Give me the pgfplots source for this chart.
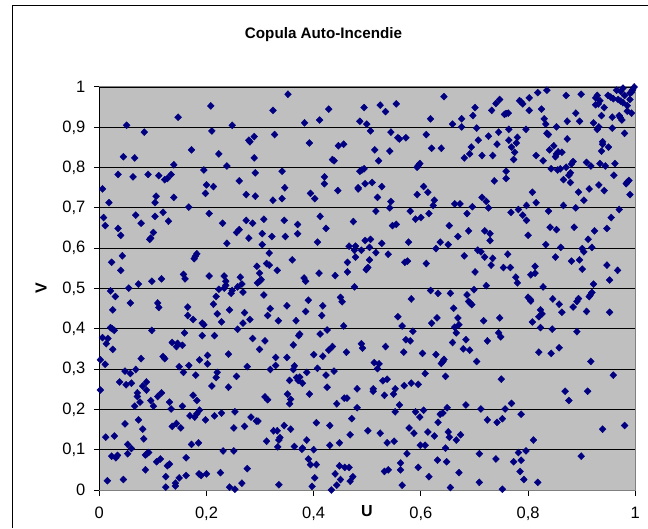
\documentclass[border=0pt]{standalone}
\usepackage{pgfplots}
\pgfplotsset{compat=1.18}
\usepackage{fontspec}
\setmainfont{Liberation Sans}
\begin{document}
\begin{tikzpicture}[x=1pt,y=1pt]
\path[use as bounding box] (0,0) rectangle (648,528);
\draw[black,line width=1.2pt] (12.5,0) -- (12.5,522.5) -- (648,522.5);
\begin{axis}[
  at={(99.3pt,38pt)},anchor=south west,
  width=536pt,height=403pt,scale only axis,
  xmin=0,xmax=1,ymin=0,ymax=1,
  axis background/.style={fill=black!25},
  axis line style={draw=black!50,line width=1pt},
  xtick={0,0.2,0.4,0.6,0.8,1},
  ytick={0,0.1,0.2,0.3,0.4,0.5,0.6,0.7,0.8,0.9,1},
  tick pos=left,
  tick align=outside,
  major tick length=5.5pt,
  xtick style={black,line width=1pt},
  ytick style={black,line width=1pt},
  ymajorgrids,grid style={black,line width=0.8pt},
  /pgf/number format/assume math mode=true,
  /pgf/number format/use comma,
  /pgf/number format/fixed,
  tick label style={font=\fontsize{16.5}{18}\selectfont},
  xticklabel style={yshift=-8pt},
  yticklabel style={xshift=-5pt},
  clip=false,
]
\addplot[only marks,mark=diamond*,mark size=3.5pt,color={rgb,255:red,0;green,0;blue,128},mark options={xscale=1.3}] table[row sep=\\] {
x y\\
.051 .905\\ .084 .888\\ .147 .925\\ .208 .953\\ .210 .891\\ .248 .905\\ .324 .942\\ .327 .882\\ .279 .868\\ .281 .864\\
.289 .877\\ .172 .844\\ .223 .834\\ .045 .827\\ .066 .824\\ .289 .824\\ .139 .807\\ .238 .804\\ .035 .783\\ .063 .777\\
.091 .783\\ .111 .780\\ .122 .770\\ .127 .773\\ .134 .783\\ .195 .794\\ .291 .787\\ .261 .767\\ .006 .747\\ .200 .757\\
.213 .753\\ .198 .736\\ .274 .733\\ .291 .729\\ .018 .713\\ .106 .729\\ .104 .713\\ .139 .726\\ .324 .719\\ .167 .702\\
.068 .682\\ .119 .689\\ .205 .686\\
.352 .982\\ .643 .976\\ .428 .945\\ .494 .949\\ .524 .955\\ .534 .939\\ .554 .958\\ .383 .911\\ .411 .918\\ .486 .915\\
.499 .908\\ .618 .921\\ .506 .891\\ .544 .888\\ .610 .882\\ .557 .874\\ .560 .871\\ .572 .874\\ .392 .861\\ .446 .854\\
.456 .858\\ .514 .844\\ .542 .841\\ .620 .848\\ .638 .848\\ .435 .820\\ .438 .817\\ .521 .817\\ .598 .810\\ .593 .801\\
.595 .805\\ .341 .791\\ .486 .791\\ .490 .794\\ .494 .797\\ .420 .777\\ .420 .760\\ .346 .750\\ .445 .743\\ .483 .750\\
.483 .747\\ .496 .760\\ .509 .763\\ .527 .753\\ .605 .753\\ .613 .739\\ .593 .733\\ .394 .736\\ .402 .723\\ .341 .723\\
.519 .726\\ .544 .716\\ .625 .719\\ .623 .706\\ .542 .700\\ .516 .692\\ .580 .692\\ .615 .686\\
.835 .992\\ .818 .986\\ .802 .973\\ .871 .979\\ .899 .982\\ .929 .979\\ .926 .973\\ .949 .979\\ .954 .975\\ .959 .971\\
.965 .992\\ .977 .997\\ .973 .989\\ .998 1.0\\ .995 .993\\ .990 .985\\ .993 .987\\ .980 .979\\ .968 .969\\ .973 .965\\
.977 .961\\ .990 .969\\ .985 .954\\ .985 .940\\ .993 .935\\ .747 .969\\ .740 .959\\ .701 .949\\ .732 .942\\ .784 .966\\
.787 .963\\ .790 .958\\ .802 .942\\ .825 .945\\ .934 .966\\ .926 .956\\ .931 .958\\ .942 .949\\ .889 .935\\ .937 .929\\
.957 .925\\ .970 .929\\ .972 .924\\ .975 .918\\ .697 .929\\ .676 .921\\ .756 .932\\ .759 .934\\ .763 .935\\ .830 .921\\
.833 .908\\ .873 .915\\ .896 .915\\ .922 .911\\ .659 .908\\ .676 .901\\ .704 .898\\ .853 .901\\ .932 .901\\ .929 .895\\
.957 .898\\ .745 .888\\ .764 .895\\ .796 .895\\ .835 .885\\ .838 .882\\ .980 .885\\ .726 .878\\ .780 .875\\ .707 .868\\
.764 .868\\ .873 .871\\ .939 .864\\ .939 .858\\ .778 .861\\ .742 .858\\ .694 .851\\ .769 .851\\ .848 .854\\ .840 .844\\
.950 .851\\ .937 .841\\ .775 .838\\ .853 .834\\ .856 .839\\ .863 .838\\ .851 .827\\ .691 .834\\ .714 .830\\ .734 .830\\
.681 .824\\ .815 .830\\ .828 .817\\ .773 .820\\ .884 .815\\ .881 .809\\ .909 .813\\ .917 .804\\ .934 .810\\ .944 .804\\
.962 .810\\ .871 .801\\ .843 .797\\ .860 .797\\ .855 .794\\ .759 .791\\ .879 .787\\ .876 .781\\ .759 .773\\ .960 .781\\
.737 .767\\ .866 .770\\ .879 .763\\ .988 .768\\ .985 .764\\ .983 .760\\ .932 .757\\ .914 .747\\ .942 .743\\ .894 .739\\
.808 .739\\ .990 .733\\ .714 .726\\ .722 .716\\ .904 .719\\ .663 .710\\ .673 .710\\ .815 .713\\ .696 .703\\ .797 .706\\
.866 .706\\ .726 .700\\ .782 .696\\ .889 .700\\ .970 .696\\ .838 .692\\ .768 .689\\ .686 .686\\ .790 .682\\
.008 .676\\ .011 .656\\ .035 .649\\ .040 .632\\ .078 .662\\ .104 .679\\ .129 .667\\ .101 .639\\ .096 .625\\ .094 .622\\
.230 .662\\ .274 .669\\ .286 .662\\ .307 .672\\ .261 .646\\ .256 .639\\ .304 .636\\ .322 .629\\ .279 .625\\ .238 .612\\
.304 .609\\ .043 .581\\ .023 .565\\ .040 .545\\ .182 .586\\ .179 .580\\ .177 .574\\ .317 .588\\ .312 .562\\ .317 .558\\
.294 .555\\ .332 .545\\ .299 .538\\ .302 .522\\ .299 .518\\ .295 .514\\ .157 .535\\ .160 .524\\ .205 .531\\ .233 .531\\
.263 .528\\ .116 .524\\ .098 .518\\ .073 .511\\ .055 .501\\ .236 .518\\ .236 .508\\ .233 .501\\ .223 .498\\ .266 .511\\
.258 .504\\ .248 .495\\ .246 .488\\ .268 .491\\ .021 .494\\ .030 .480\\ .218 .480\\ .307 .484\\ .058 .464\\ .109 .464\\
.111 .453\\ .213 .461\\ .165 .454\\ .025 .447\\ .243 .447\\ .319 .450\\ .220 .437\\ .271 .440\\ .165 .433\\ .314 .433\\
.175 .423\\ .281 .423\\ .228 .417\\ .334 .420\\ .192 .414\\ .195 .410\\ .268 .414\\ .021 .403\\ .028 .396\\ .024 .400\\
.098 .396\\ .258 .399\\ .159 .390\\ .192 .383\\ .215 .383\\ .006 .378\\ .016 .376\\ .286 .376\\ .013 .363\\ .309 .370\\
.136 .366\\ .146 .364\\ .155 .359\\ .144 .356\\ .025 .349\\ .299 .349\\
.345 .669\\ .370 .659\\ .412 .679\\ .474 .666\\ .423 .649\\ .554 .659\\ .547 .656\\ .590 .672\\ .600 .676\\ .653 .656\\
.347 .629\\ .370 .636\\ .407 .615\\ .496 .619\\ .506 .622\\ .527 .612\\ .577 .615\\ .636 .615\\ .651 .609\\ .466 .605\\
.478 .605\\ .476 .595\\ .489 .595\\ .504 .602\\ .516 .589\\ .539 .585\\ .628 .599\\ .478 .578\\ .504 .571\\ .463 .565\\
.360 .571\\ .570 .565\\ .575 .568\\ .610 .562\\ .501 .552\\ .498 .547\\ .463 .541\\ .410 .538\\ .440 .532\\ .382 .526\\
.385 .518\\ .476 .504\\ .618 .495\\ .632 .488\\ .655 .488\\ .450 .478\\ .453 .467\\ .582 .474\\ .390 .471\\ .350 .457\\
.417 .457\\ .385 .443\\ .415 .433\\ .557 .430\\ .630 .427\\ .367 .420\\ .620 .414\\ .456 .407\\ .565 .407\\ .425 .397\\
.585 .394\\ .374 .387\\ .372 .383\\ .412 .387\\ .572 .373\\ .580 .370\\ .362 .360\\ .489 .363\\ .491 .352\\ .435 .356\\
.428 .347\\ .534 .356\\
.955 .676\\ .797 .669\\ .841 .652\\ .853 .646\\ .886 .652\\ .924 .643\\ .947 .649\\ .689 .643\\ .719 .643\\ .729 .636\\
.669 .629\\ .729 .619\\ .800 .632\\ .912 .622\\ .833 .609\\ .861 .602\\ .919 .602\\ .901 .599\\ .904 .591\\ .706 .595\\
.712 .591\\ .681 .581\\ .719 .578\\ .734 .575\\ .762 .585\\ .851 .578\\ .896 .571\\ .881 .568\\ .731 .558\\ .754 .552\\
.767 .552\\ .813 .555\\ .901 .548\\ .947 .558\\ .967 .545\\ .701 .541\\ .813 .538\\ .805 .534\\ .777 .528\\ .780 .514\\
.952 .521\\ .722 .507\\ .828 .504\\ .922 .511\\ .699 .497\\ .686 .484\\ .919 .490\\ .916 .484\\ .914 .480\\ .800 .478\\
.804 .473\\ .805 .469\\ .846 .474\\ .894 .475\\ .891 .468\\ .858 .461\\ .689 .468\\ .692 .464\\ .695 .460\\ .661 .451\\
.884 .454\\ .823 .447\\ .863 .441\\ .909 .443\\ .952 .441\\ .826 .437\\ .820 .430\\ .669 .427\\ .747 .427\\ .717 .420\\
.808 .417\\ .671 .410\\ .663 .404\\ .823 .403\\ .845 .399\\ .666 .390\\ .891 .393\\ .745 .390\\ .749 .380\\ .684 .373\\
.724 .370\\ .659 .366\\ .858 .353\\ .679 .350\\ .691 .347\\
.002 .323\\ .011 .312\\ .078 .326\\ .119 .331\\ .122 .326\\ .149 .306\\ .167 .309\\ .187 .323\\ .202 .334\\ .202 .313\\
.241 .337\\ .276 .306\\ .329 .329\\ .329 .309\\ .319 .299\\ .048 .295\\ .058 .289\\ .068 .299\\ .157 .292\\ .180 .285\\
.220 .292\\ .218 .279\\ .256 .282\\ .038 .268\\ .050 .261\\ .060 .265\\ .081 .258\\ .088 .268\\ .088 .248\\ .210 .258\\
.241 .255\\ .002 .248\\ .071 .241\\ .071 .232\\ .116 .241\\ .109 .232\\ .175 .235\\ .309 .231\\ .314 .224\\ .096 .222\\
.076 .218\\ .131 .218\\ .182 .222\\ .066 .208\\ .101 .208\\ .155 .208\\ .134 .201\\ .187 .198\\ .169 .184\\ .178 .181\\
.182 .189\\ .215 .184\\ .228 .191\\ .253 .194\\ .283 .181\\ .198 .174\\ .293 .171\\ .296 .171\\ .073 .174\\ .048 .164\\
.136 .158\\ .144 .165\\ .152 .154\\ .251 .154\\ .271 .158\\ .081 .151\\ .325 .147\\ .332 .147\\ .012 .131\\ .028 .134\\
.083 .127\\ .312 .121\\ .053 .113\\ .060 .103\\ .172 .113\\ .185 .117\\ .333 .107\\ .231 .097\\ .251 .097\\ .053 .090\\
.023 .084\\ .031 .080\\ .034 .086\\ .086 .087\\ .092 .093\\ .089 .090\\ .162 .080\\ .114 .077\\ .107 .070\\ .131 .064\\
.127 .060\\ .086 .050\\ .276 .053\\ .226 .043\\ .186 .040\\ .190 .036\\ .200 .040\\ .162 .036\\ .124 .033\\ .149 .030\\
.015 .023\\ .045 .026\\ .142 .017\\ .142 .010\\ .124 .007\\ .243 .007\\ .253 .002\\ .266 .017\\ .335 .013\\
.350 .329\\ .400 .336\\ .417 .332\\ .461 .342\\ .568 .342\\ .603 .339\\ .628 .336\\ .643 .324\\ .641 .319\\ .638 .314\\
.513 .316\\ .522 .313\\ .519 .301\\ .364 .308\\ .362 .299\\ .407 .302\\ .387 .292\\ .423 .285\\ .438 .295\\ .608 .289\\
.646 .282\\ .368 .279\\ .374 .280\\ .371 .272\\ .379 .265\\ .355 .272\\ .537 .275\\ .529 .271\\ .582 .265\\ .595 .262\\
.569 .259\\ .425 .255\\ .481 .251\\ .552 .251\\ .511 .251\\ .511 .245\\ .351 .238\\ .392 .238\\ .532 .235\\ .549 .238\\
.357 .225\\ .355 .214\\ .457 .228\\ .462 .228\\ .443 .214\\ .560 .211\\ .481 .204\\ .649 .204\\ .552 .194\\ .590 .194\\
.605 .198\\ .641 .191\\ .636 .188\\ .598 .181\\ .471 .177\\ .405 .167\\ .430 .160\\ .632 .168\\ .345 .160\\ .357 .151\\
.578 .154\\ .587 .141\\ .613 .144\\ .651 .144\\ .625 .134\\ .653 .131\\ .666 .124\\ .524 .141\\ .501 .147\\ .468 .137\\
.337 .130\\ .335 .124\\ .387 .124\\ .537 .117\\ .550 .121\\ .448 .117\\ .430 .111\\ .364 .108\\ .379 .104\\ .378 .101\\
.400 .100\\ .599 .111\\ .608 .111\\ .646 .104\\ .574 .090\\ .390 .077\\ .631 .074\\ .648 .070\\ .394 .063\\ .405 .063\\
.562 .067\\ .448 .060\\ .458 .056\\ .466 .056\\ .595 .056\\ .562 .050\\ .532 .046\\ .539 .050\\ .440 .040\\ .473 .033\\
.468 .022\\ .402 .030\\ .450 .026\\ .615 .033\\ .443 .012\\ .397 .009\\ .433 .000\\ .565 .012\\ .655 .006\\
.704 .319\\ .820 .342\\ .843 .339\\ .917 .319\\ .959 .285\\ .750 .275\\ .869 .245\\ .911 .245\\ .876 .222\\ .684 .211\\
.769 .215\\ .712 .201\\ .757 .201\\ .787 .188\\ .724 .174\\ .752 .177\\ .742 .168\\ .980 .160\\ .939 .151\\ .674 .137\\
.810 .124\\ .709 .090\\ .782 .093\\ .796 .097\\ .740 .077\\ .773 .070\\ .787 .074\\ .899 .084\\ .785 .046\\ .671 .043\\
.792 .026\\ .709 .019\\ .818 .019\\ .752 .002\\
};
\draw[black,line width=1.2pt] (axis cs:0,0) -- (axis cs:0,1);
\end{axis}
\node[font=\bfseries\fontsize{15.2}{18}\selectfont] at (323.5,493.5) {Copula Auto-Incendie};
\node[font=\bfseries\fontsize{16}{18}\selectfont] at (367,16.5) {U};
\node[font=\bfseries\fontsize{16}{18}\selectfont,rotate=90] at (41,240) {V};
\end{tikzpicture}
\end{document}
